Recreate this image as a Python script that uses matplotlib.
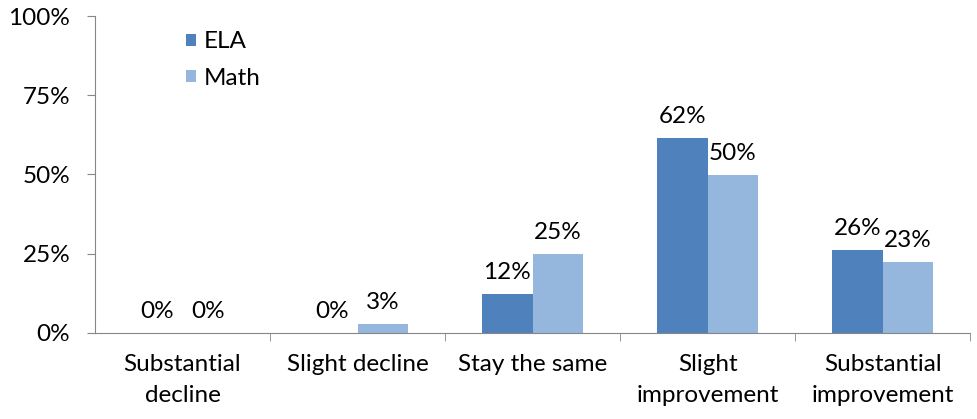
import numpy as np
import matplotlib.pyplot as plt
from matplotlib.ticker import FixedLocator, PercentFormatter

categories = ['Substantial\ndecline', 'Slight decline', 'Stay the same',
              'Slight\nimprovement', 'Substantial\nimprovement']
ela = [0.0, 0.0, 12.3, 61.5, 26.2]
math = [0.0, 2.8, 24.9, 49.8, 22.4]
ela_labels = ['0%', '0%', '12%', '62%', '26%']
math_labels = ['0%', '3%', '25%', '50%', '23%']

plt.rcParams['font.family'] = ['Lato', 'DejaVu Sans']
plt.rcParams['font.size'] = 17.5

fig = plt.figure(figsize=(9.77, 4.19), dpi=100)
ax = fig.add_axes([0.0972, 0.2053, 0.8958, 0.7565])

x = np.arange(len(categories))
w = 0.29
b1 = ax.bar(x - w/2, ela, w, color='#4F81BD', label='ELA')
b2 = ax.bar(x + w/2, math, w, color='#95B7DE', label='Math')

for bars, labels in [(b1, ela_labels), (b2, math_labels)]:
    for rect, lab in zip(bars, labels):
        ax.annotate(lab, (rect.get_x() + rect.get_width()/2, rect.get_height()),
                    xytext=(0, 8), textcoords='offset points',
                    ha='center', va='bottom')

ax.set_xlim(-0.5, len(categories) - 0.5)
ax.set_ylim(0, 100)
ax.set_yticks([0, 25, 50, 75, 100])
ax.yaxis.set_major_formatter(PercentFormatter(decimals=0))
ax.set_xticks(x)
ax.set_xticklabels(categories, va='top', linespacing=1.6)
ax.xaxis.set_minor_locator(FixedLocator(np.arange(0.5, len(categories), 1.0)))
ax.tick_params(axis='x', which='major', length=0, pad=15)
ax.tick_params(axis='x', which='minor', length=5.8, color='#868686', direction='out')
ax.tick_params(axis='y', length=5.8, color='#868686', direction='out', pad=12)

for s in ['top', 'right']:
    ax.spines[s].set_visible(False)
for s in ['left', 'bottom']:
    ax.spines[s].set_color('#868686')

ax.legend(loc='upper left', bbox_to_anchor=(0.19, 0.925), bbox_transform=fig.transFigure,
          frameon=False, borderpad=0, borderaxespad=0,
          handlelength=0.42, handleheight=0.4, handletextpad=0.33, labelspacing=0.64)

fig.savefig('out.png', dpi=100)
